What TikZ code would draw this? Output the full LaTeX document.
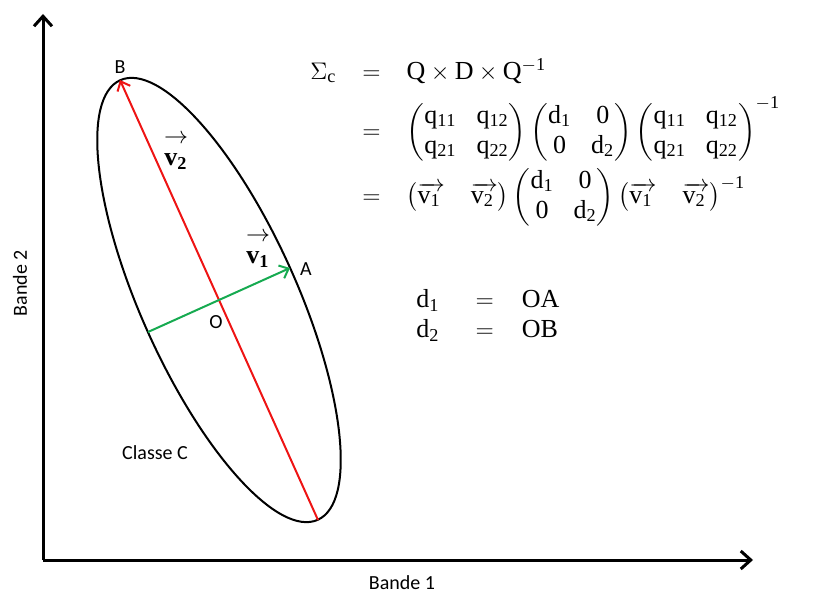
\documentclass[tikz,border=0pt]{standalone}
\usepackage{amsmath}
\usepackage{fontspec}
\setmainfont{Liberation Serif}
\newfontfamily\lblfont{Carlito}
\usetikzlibrary{arrows.meta,positioning}
\definecolor{vecred}{RGB}{238,20,20}
\definecolor{vecgreen}{RGB}{22,170,80}
\newcommand{\rmv}[1]{\mathrm{#1}}
\newcommand{\vecv}[1]{\overrightarrow{\mathrm{v}_{\mathrm{#1}}\,}}

\begin{document}
\begin{tikzpicture}[x=0.5pt,y=-0.5pt,font=\lblfont\fontsize{10}{12}\selectfont,
  axis/.style={line width=1.5pt,-{Straight Barb[length=5pt,width=9pt]}},
  vec/.style={line width=1pt,-{Straight Barb[length=4pt,width=7pt]}},
  lbl/.style={inner sep=1pt},
  vlbl/.style={inner sep=0pt,align=center,font=\fontsize{13}{11}\selectfont},
  eq/.style={inner sep=0pt,font=\fontsize{13}{15}\selectfont}]
\useasboundingbox (0,0) rectangle (830,599);
% axes
\coordinate (orig) at (43,560);
\coordinate (ytop) at (43,14);
\coordinate (xend) at (753,560);
\draw[axis] (orig) -- (ytop);
\draw[axis] (orig) -- (xend);
\node[lbl] (bx) at (402,583) {Bande 1};
\node[lbl,rotate=90] (by) at (20,283) {Bande 2};
% ellipse of the class
\coordinate (O) at (219,300);
\coordinate (B) at (120,80);
\coordinate (Bm) at (318,520);
\coordinate (A) at (290,268);
\coordinate (Am) at (148,332);
\draw[line width=1pt] (O) ellipse [x radius=120.5pt,y radius=39pt,rotate=114.2];
\draw[vec,vecred] (Bm) -- (B);
\draw[vec,vecgreen] (Am) -- (A);
\node[lbl] (lB) at (120,67) {B};
\node[lbl] (lA) at (306,269) {A};
\node[lbl] (lO) at (216,322) {O};
\node[lbl] (cls) at (155,453) {Classe C};
\node[vlbl] (v2) at (176,152) {$\rightarrow$\\$\mathbf{v}_{\mathbf{2}}$};
\node[vlbl] (v1) at (258,250) {$\rightarrow$\\$\mathbf{v}_{\mathbf{1}}$};
% formulas
\node[eq,anchor=north west] (sig) at (310,58) {$\begin{array}{@{}r@{\hspace{13pt}}c@{\hspace{13pt}}l@{}}
  \Sigma_{\mathrm{c}} & = & \rmv{Q}\times\rmv{D}\times\rmv{Q}^{-\rmv{1}}\\[4pt]
   & = & \begin{pmatrix}\rmv{q}_{\rmv{11}} & \rmv{q}_{\rmv{12}}\\ \rmv{q}_{\rmv{21}} & \rmv{q}_{\rmv{22}}\end{pmatrix}
         \begin{pmatrix}\rmv{d}_{\rmv{1}} & \rmv{0}\\ \rmv{0} & \rmv{d}_{\rmv{2}}\end{pmatrix}
         \begin{pmatrix}\rmv{q}_{\rmv{11}} & \rmv{q}_{\rmv{12}}\\ \rmv{q}_{\rmv{21}} & \rmv{q}_{\rmv{22}}\end{pmatrix}^{-\rmv{1}}\\[10pt]
   & = & \left(\vecv{1}\quad\vecv{2}\right)
         \begin{pmatrix}\rmv{d}_{\rmv{1}} & \rmv{0}\\ \rmv{0} & \rmv{d}_{\rmv{2}}\end{pmatrix}
         \left(\vecv{1}\quad\vecv{2}\right)^{-\rmv{1}}
\end{array}$};
\node[eq,anchor=north west] (dd) at (416,286) {$\begin{array}{@{}l@{\hspace{18pt}}c@{\hspace{14pt}}l@{}}
  \rmv{d}_{\rmv{1}} & = & \rmv{OA}\\
  \rmv{d}_{\rmv{2}} & = & \rmv{OB}
\end{array}$};
\end{tikzpicture}
\end{document}
